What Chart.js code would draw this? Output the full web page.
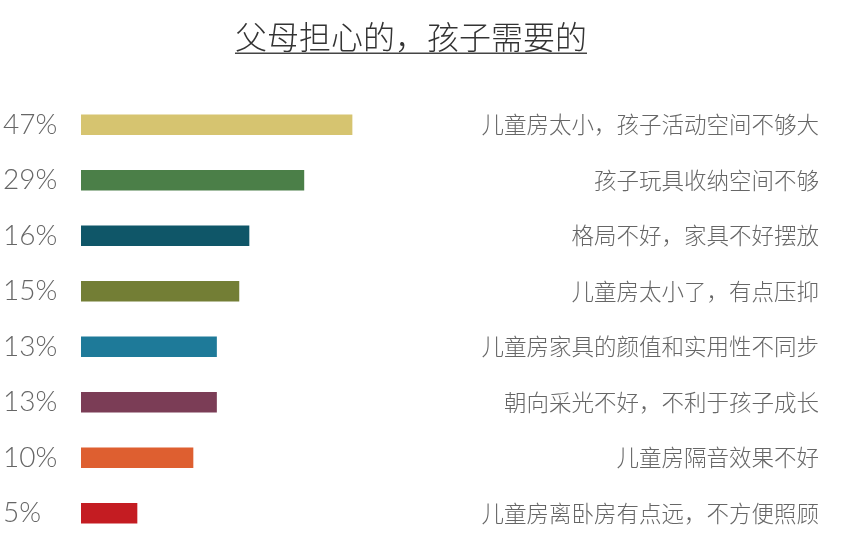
<!DOCTYPE html>
<html>
<head>
<meta charset="utf-8">
<script src="https://cdn.jsdelivr.net/npm/chart.js@4"></script>
<style>
    body { margin: 0; background: #fff; }
    #wrap { width: 844px; height: 541px; position: relative; }
</style>
</head>
<body>
<div id="wrap"><canvas id="chart"></canvas></div>
<script>
const titleText = '父母担心的，孩子需要的';

// printed percentages (left) and reasons (right), top to bottom
const pctLabels = ['47%', '29%', '16%', '15%', '13%', '13%', '10%', '5%'];
const reasons = [
    '儿童房太小，孩子活动空间不够大',
    '孩子玩具收纳空间不够',
    '格局不好，家具不好摆放',
    '儿童房太小了，有点压抑',
    '儿童房家具的颜值和实用性不同步',
    '朝向采光不好，不利于孩子成长',
    '儿童房隔音效果不好',
    '儿童房离卧房有点远，不方便照顾'
];
// bar lengths as drawn in the source (not proportional to the printed %)
const barLengths = [24.2, 19.9, 15.0, 14.1, 12.1, 12.1, 10.0, 5.0];
const barColors = ['#D6C470', '#4B7F48', '#0F5668', '#737E35', '#1E7A99', '#7B3D56', '#DE5F30', '#C41C22'];

const ctx = document.getElementById('chart');

// draws the line under the title
const underline = {
    id: 'underline',
    afterDraw(chart) {
        const tb = chart.titleBlock;
        if (!tb) return;
        const c = chart.ctx;
        const font = tb.options.font;
        c.save();
        c.font = font.weight + ' ' + font.size + 'px ' + font.family;
        const w = c.measureText(titleText).width;
        const cx = (tb.left + tb.right) / 2;
        const y = tb.top + tb.options.padding.top + font.size * 1.2 / 2 + 16;
        c.strokeStyle = '#444';
        c.lineWidth = 1.5;
        c.beginPath();
        c.moveTo(cx - w / 2, y);
        c.lineTo(cx + w / 2, y);
        c.stroke();
        c.restore();
    }
};

// no extra room above/below the label columns
function noVertPad(scale) {
    scale.paddingTop = 0;
    scale.paddingBottom = 0;
}

new Chart(ctx, {
    type: 'bar',
    data: {
        labels: pctLabels,
        datasets: [{
            data: barLengths,
            backgroundColor: barColors,
            barThickness: 20,
            borderWidth: 0
        }]
    },
    plugins: [underline],
    options: {
        indexAxis: 'y',
        responsive: true,
        maintainAspectRatio: false,
        animation: false,
        layout: { padding: { left: 3, right: 25, top: 0, bottom: 0 } },
        plugins: {
            legend: { display: false },
            tooltip: { enabled: false },
            title: {
                display: true,
                text: titleText,
                color: '#333',
                font: { family: '"Noto Sans CJK SC"', size: 32, weight: '300', lineHeight: 1.2 },
                padding: { top: 18, bottom: 40.6 }
            }
        },
        scales: {
            x: {
                type: 'linear',
                min: 0,
                max: 35,
                display: false
            },
            y: {
                position: 'left',
                grid: { display: false },
                border: { display: false },
                ticks: {
                    crossAlign: 'far',
                    color: '#666',
                    font: { family: 'Lato', size: 28, weight: '300' }
                },
                afterFit(scale) {
                    scale.width = 78;
                    noVertPad(scale);
                }
            },
            y2: {
                type: 'category',
                labels: reasons,
                position: 'right',
                offset: true,
                grid: { display: false },
                border: { display: false },
                ticks: {
                    crossAlign: 'far',
                    color: '#666',
                    font: { family: '"Noto Sans CJK SC"', size: 22.5, weight: '300' }
                },
                afterFit(scale) {
                    scale.width = 346;
                    noVertPad(scale);
                }
            }
        }
    }
});
</script>
</body>
</html>
